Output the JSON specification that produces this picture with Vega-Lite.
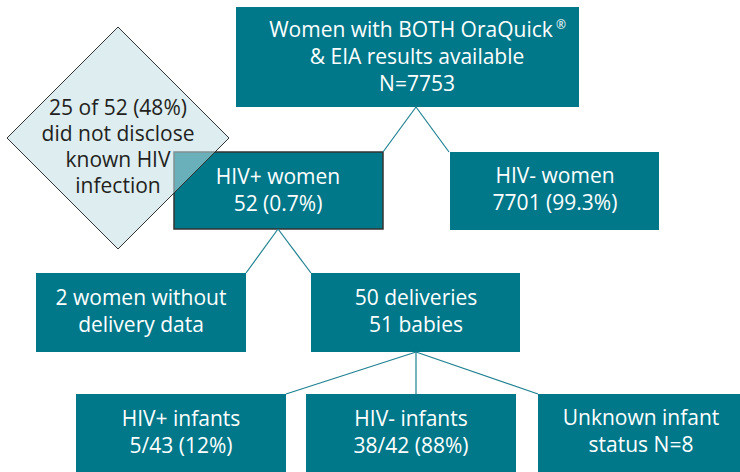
{
  "$schema": "https://vega.github.io/schema/vega-lite/v6.json",
  "width": 740,
  "height": 472,
  "autosize": {"type": "none"},
  "padding": 0,
  "background": "white",
  "config": {"view": {"stroke": null}, "font": "Open Sans"},
  "datasets": {
    "boxes": [
      {"id": "top", "x0": 236, "x1": 579, "y0": 7, "y1": 107},
      {"id": "hivpos", "x0": 174, "x1": 383, "y0": 152, "y1": 229},
      {"id": "hivneg", "x0": 450, "x1": 659, "y0": 152, "y1": 230},
      {"id": "nodel", "x0": 36, "x1": 246, "y0": 273, "y1": 352},
      {"id": "deliv", "x0": 311, "x1": 520, "y0": 273, "y1": 352},
      {"id": "infpos", "x0": 76, "x1": 286, "y0": 394, "y1": 472},
      {"id": "infneg", "x0": 306, "x1": 516, "y0": 394, "y1": 472},
      {"id": "unknown", "x0": 538, "x1": 740, "y0": 394, "y1": 472}
    ],
    "links": [
      {"xa": 416, "ya": 107, "xb": 383, "yb": 152},
      {"xa": 416, "ya": 107, "xb": 449, "yb": 152},
      {"xa": 278, "ya": 229, "xb": 246, "yb": 273},
      {"xa": 278, "ya": 229, "xb": 311, "yb": 273},
      {"xa": 416, "ya": 352, "xb": 286, "yb": 394},
      {"xa": 416, "ya": 352, "xb": 416, "yb": 394},
      {"xa": 416, "ya": 352, "xb": 538, "yb": 394}
    ],
    "labels": [
      {"x": 411, "y": 37, "text": "Women with BOTH OraQuick"},
      {"x": 417, "y": 64, "text": "& EIA results available\nN=7753"},
      {"x": 278, "y": 184, "text": "HIV+ women\n52 (0.7%)"},
      {"x": 555, "y": 183, "text": "HIV- women\n7701 (99.3%)"},
      {"x": 141, "y": 305, "text": "2 women without\ndelivery data"},
      {"x": 416, "y": 305, "text": "50 deliveries\n51 babies"},
      {"x": 181, "y": 426, "text": "HIV+ infants\n5/43 (12%)"},
      {"x": 411, "y": 426, "text": "HIV- infants\n38/42 (88%)"},
      {"x": 641, "y": 425, "text": "Unknown infant\nstatus N=8"}
    ],
    "marks": [
      {"x": 561, "y": 29, "text": "®"}
    ],
    "diamond": [
      {"x": 118, "y": 138, "text": "25 of 52 (48%)\ndid not disclose\nknown HIV\ninfection", "ty": 115}
    ]
  },
  "layer": [
    {
      "data": {"name": "boxes"},
      "mark": {"type": "rect", "fill": "#00788a"},
      "encoding": {
        "x": {"field": "x0", "type": "quantitative", "scale": {"domain": [0, 740], "nice": false, "zero": false}, "axis": null},
        "x2": {"field": "x1"},
        "y": {"field": "y0", "type": "quantitative", "scale": {"domain": [0, 472], "nice": false, "zero": false, "reverse": true}, "axis": null},
        "y2": {"field": "y1"}
      }
    },
    {
      "data": {"name": "boxes"},
      "transform": [{"filter": "datum.id == 'hivpos'"}],
      "mark": {"type": "rect", "fill": null, "filled": false, "stroke": "#333333", "strokeWidth": 1.5},
      "encoding": {
        "x": {"field": "x0", "type": "quantitative"},
        "x2": {"field": "x1"},
        "y": {"field": "y0", "type": "quantitative"},
        "y2": {"field": "y1"}
      }
    },
    {
      "data": {"name": "diamond"},
      "mark": {"type": "point", "shape": "diamond", "size": 49284, "filled": true, "fill": "#c1dee3", "fillOpacity": 0.55, "stroke": "#333333", "strokeWidth": 1, "strokeOpacity": 1},
      "encoding": {
        "x": {"field": "x", "type": "quantitative"},
        "y": {"field": "y", "type": "quantitative"}
      }
    },
    {
      "data": {"name": "links"},
      "mark": {"type": "rule", "stroke": "#1f8090", "strokeWidth": 1.2},
      "encoding": {
        "x": {"field": "xa", "type": "quantitative"},
        "y": {"field": "ya", "type": "quantitative"},
        "x2": {"field": "xb"},
        "y2": {"field": "yb"}
      }
    },
    {
      "data": {"name": "labels"},
      "mark": {"type": "text", "color": "white", "fontSize": 21, "lineBreak": "\n", "lineHeight": 27, "align": "center", "baseline": "alphabetic"},
      "encoding": {
        "x": {"field": "x", "type": "quantitative"},
        "y": {"field": "y", "type": "quantitative"},
        "text": {"field": "text"}
      }
    },
    {
      "data": {"name": "marks"},
      "mark": {"type": "text", "color": "white", "fontSize": 12, "align": "center", "baseline": "alphabetic"},
      "encoding": {
        "x": {"field": "x", "type": "quantitative"},
        "y": {"field": "y", "type": "quantitative"},
        "text": {"field": "text"}
      }
    },
    {
      "data": {"name": "diamond"},
      "mark": {"type": "text", "color": "#231f20", "fontSize": 21, "lineBreak": "\n", "lineHeight": 26, "align": "center", "baseline": "alphabetic"},
      "encoding": {
        "x": {"field": "x", "type": "quantitative"},
        "y": {"field": "ty", "type": "quantitative"},
        "text": {"field": "text"}
      }
    }
  ]
}
